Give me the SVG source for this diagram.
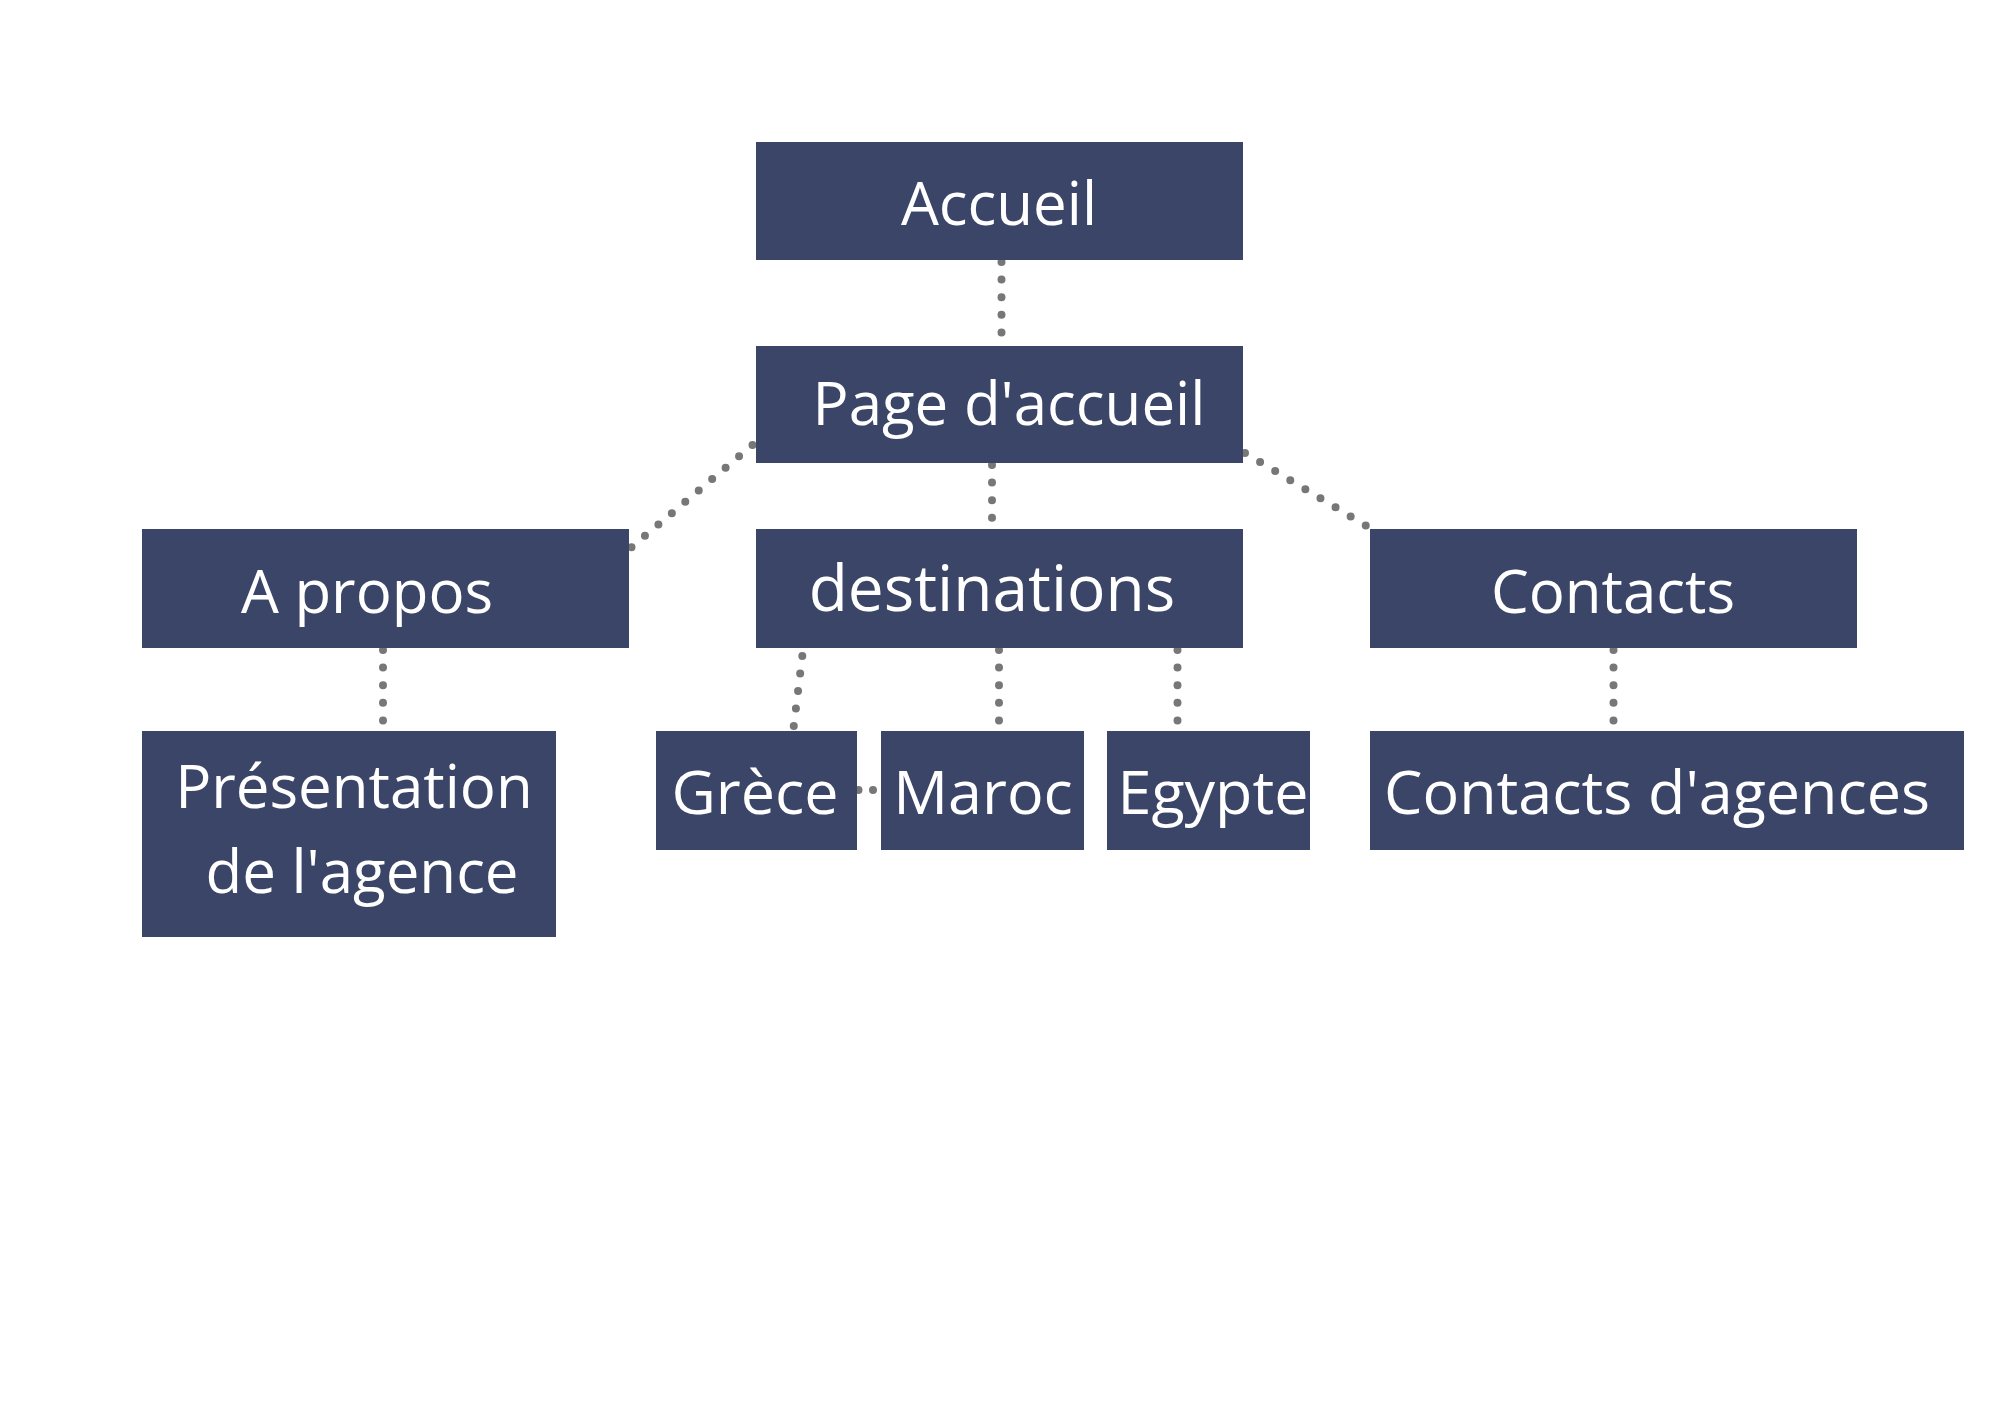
<svg xmlns="http://www.w3.org/2000/svg" width="2000" height="1414" viewBox="0 0 2000 1414">
<style>
.box{fill:#3b4568}
.lbl{fill:#ffffff;font-family:"Open Sans","Noto Sans",sans-serif;font-size:60px;text-anchor:middle}
.sm{font-size:61px}
.dot{fill:none;stroke:#777777;stroke-width:8;stroke-linecap:round;stroke-dasharray:0 17.6}
</style>
<rect width="2000" height="1414" fill="#ffffff"/>
<g id="connectors">
<path class="dot" d="M1001.5 262 L1001.5 333"/>
<path class="dot" d="M992 465 L992 522"/>
<path class="dot" d="M752.5 445 L630 548.5"/>
<path class="dot" d="M1245 453 L1370 528"/>
<path class="dot" d="M802.3 656 L793.4 729"/>
<path class="dot" d="M999 650 L999 722"/>
<path class="dot" d="M1177.5 650 L1177.5 722"/>
<path class="dot" style="stroke-dasharray:0 14.5" d="M858.5 790 L876 790"/>
<path class="dot" d="M383 650 L383 722"/>
<path class="dot" d="M1613.5 650 L1613.5 722"/>
</g>
<g id="accueil"><rect class="box" x="756" y="142" width="487" height="118"/><text class="lbl" x="999" y="225">Accueil</text></g>
<g id="page-accueil"><rect class="box" x="756" y="346" width="487" height="117"/><text class="lbl" x="1009" y="425">Page d'accueil</text></g>
<g id="a-propos"><rect class="box" x="142" y="529" width="487" height="119"/><text class="lbl" x="367" y="613">A propos</text></g>
<g id="destinations"><rect class="box" x="756" y="529" width="487" height="119"/><text class="lbl" x="992" y="611" style="font-size:64px">destinations</text></g>
<g id="contacts"><rect class="box" x="1370" y="529" width="487" height="119"/><text class="lbl" x="1613" y="613">Contacts</text></g>
<g id="presentation"><rect class="box" x="142" y="731" width="414" height="206"/><text class="lbl" x="354" y="808">Présentation</text><text class="lbl" x="362" y="893">de l'agence</text></g>
<g id="grece"><rect class="box" x="656" y="731" width="201" height="119"/><text class="lbl sm" x="755" y="814">Grèce</text></g>
<g id="maroc"><rect class="box" x="881" y="731" width="203" height="119"/><text class="lbl sm" x="983" y="814">Maroc</text></g>
<g id="egypte"><rect class="box" x="1107" y="731" width="203" height="119"/><text class="lbl sm" x="1213" y="814">Egypte</text></g>
<g id="contacts-agences"><rect class="box" x="1370" y="731" width="594" height="119"/><text class="lbl sm" x="1657" y="814">Contacts d'agences</text></g>
</svg>
